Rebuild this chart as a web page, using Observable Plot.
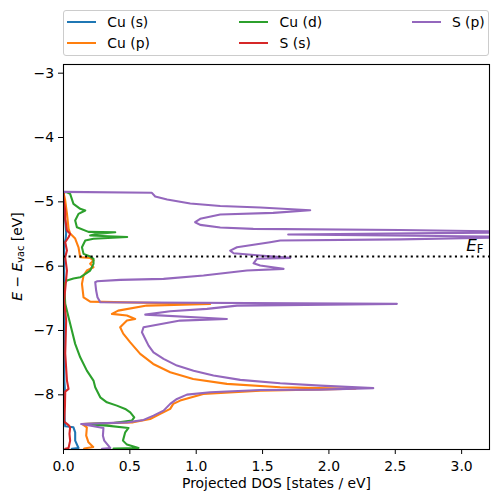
<!DOCTYPE html>
<html>
<head>
<meta charset="utf-8">
<script src="https://cdn.jsdelivr.net/npm/d3@7"></script>
<script src="https://cdn.jsdelivr.net/npm/@observablehq/plot@0.6"></script>
<style>
  body { margin: 0; background: white; font-family: "DejaVu Sans", sans-serif; }
  #wrap { position: relative; width: 498px; height: 502px; }
  #legendArea { position: relative; height: 60px; }
  #legend { position: absolute; left: 63px; top: 10px; width: 426px; height: 46px;
            border: 1px solid #cccccc; border-radius: 3px; box-sizing: border-box; background: white; }
  .lg-handle { position: absolute; height: 2px; width: 29px; }
  .lg-text { position: absolute; font-size: 13.9px; line-height: 16px; color: black; white-space: nowrap; }
  svg { display: block; }
</style>
</head>
<body>
<div id="wrap">
  <div id="legendArea"><div id="legend"></div></div>
  <div id="chart"></div>
</div>
<script>
// ---------- data (DOS in states/eV, energy in eV) ----------
const seriesNames = ["Cu (s)", "Cu (p)", "Cu (d)", "S (s)", "S (p)"];
const seriesColors = ["#1f77b4", "#ff7f0e", "#2ca02c", "#d62728", "#9467bd"];
const energyFermi = -5.851;
const xTicks = [0, 0.5, 1.0, 1.5, 2.0, 2.5, 3.0];
const yTicks = [-8, -7, -6, -5, -4, -3];

// [dos, energy]
const cuS = [
  [0,-4.851],[0.002,-5.21],[0.013,-5.29],[0.02,-5.48],[0.017,-5.57],[0.005,-5.68],[0.004,-5.91],
  [0.006,-6.3],[0.004,-7.0],[0.006,-7.78],[0.01,-7.9],[0.005,-8.2],[0.009,-8.40],[0.013,-8.49],
  [0.075,-8.505],[0.088,-8.583],[0.088,-8.712],[0.113,-8.826],[0.063,-8.837],[0.058,-8.95]
];
const cuP = [
  [0,-4.851],[0.005,-4.902],[0.013,-4.98],[0.026,-5.182],[0.038,-5.415],[0.05,-5.493],[0.088,-5.571],
  [0.113,-5.706],[0.126,-5.862],[0.201,-5.871],[0.226,-5.913],[0.201,-5.964],[0.226,-6.017],
  [0.176,-6.068],[0.151,-6.146],[0.139,-6.275],[0.151,-6.484],[0.201,-6.551],[1.105,-6.589],
  [0.628,-6.613],[0.412,-6.691],[0.365,-6.742],[0.478,-6.768],[0.54,-6.82],[0.478,-6.846],
  [0.427,-6.95],[0.45,-7.048],[0.503,-7.184],[0.578,-7.364],[0.676,-7.52],[0.804,-7.65],
  [0.977,-7.753],[1.231,-7.83],[1.633,-7.883],[2.2,-7.905],[1.482,-7.935],[1.053,-7.986],
  [0.879,-8.09],[0.827,-8.141],[0.804,-8.219],[0.729,-8.297],[0.653,-8.375],[0.525,-8.428],
  [0.139,-8.453],[0.176,-8.505],[0.171,-8.635],[0.188,-8.739],[0.224,-8.81],[0.156,-8.833],[0.141,-8.95]
];
const cuD = [
  [0,-4.851],[0.026,-4.851],[0.05,-4.876],[0.075,-5.031],[0.126,-5.109],[0.164,-5.135],[0.113,-5.187],
  [0.088,-5.291],[0.101,-5.395],[0.188,-5.467],[0.39,-5.473],[0.252,-5.498],[0.201,-5.524],
  [0.48,-5.547],[0.226,-5.575],[0.164,-5.602],[0.139,-5.706],[0.151,-5.809],[0.201,-5.851],
  [0.226,-5.886],[0.226,-5.964],[0.201,-6.068],[0.126,-6.173],[0.075,-6.193],[0.026,-6.224],
  [0.005,-6.275],[0.013,-6.586],[0.038,-6.795],[0.063,-7.002],[0.088,-7.208],[0.126,-7.417],
  [0.176,-7.624],[0.226,-7.779],[0.239,-7.883],[0.277,-8.039],[0.327,-8.117],[0.402,-8.168],
  [0.465,-8.219],[0.503,-8.272],[0.533,-8.35],[0.515,-8.401],[0.377,-8.437],[0.151,-8.453],
  [0.327,-8.479],[0.49,-8.515],[0.465,-8.583],[0.448,-8.712],[0.478,-8.774],[0.565,-8.826],
  [0.377,-8.837],[0.375,-8.95]
];
const sS = [
  [0,-4.851],[0,-4.953],[0.013,-5.135],[0.013,-5.264],[0.026,-5.446],[0.05,-5.498],[0.038,-5.551],
  [0.013,-5.628],[0.026,-5.757],[0.013,-5.862],[0.026,-6.068],[0.005,-6.535],[0.02,-6.846],
  [0.013,-7.359],[0.026,-7.779],[0.038,-7.908],[0.013,-7.95],[0.011,-8.168],[0.005,-8.417],
  [0.038,-8.471],[0.05,-8.505],[0.045,-8.608],[0.05,-8.712],[0.038,-8.826],[0.013,-8.837],[0.013,-8.95]
];
const sP = [
  [0,-4.845],[0.666,-4.86],[0.691,-4.918],[0.781,-4.964],[0.955,-5.026],[1.181,-5.065],[1.483,-5.089],
  [1.859,-5.131],[1.58,-5.171],[1.181,-5.198],[1.03,-5.264],[0.992,-5.317],[1.03,-5.358],
  [1.181,-5.4],[1.43,-5.42],[2.537,-5.439],[3.6,-5.47],[1.693,-5.509],[3.6,-5.545],[2.537,-5.583],
  [1.633,-5.602],[1.557,-5.628],[1.307,-5.706],[1.256,-5.758],[1.282,-5.799],[1.482,-5.835],
  [1.708,-5.871],[1.457,-5.886],[1.432,-5.955],[1.482,-5.991],[1.658,-6.042],[1.382,-6.068],
  [1.055,-6.146],[0.754,-6.198],[0.427,-6.213],[0.252,-6.235],[0.239,-6.25],[0.246,-6.379],
  [0.256,-6.484],[0.277,-6.561],[2.512,-6.586],[1.307,-6.613],[1.081,-6.664],[0.804,-6.701],
  [0.616,-6.753],[1.231,-6.82],[0.879,-6.846],[0.603,-6.95],[0.591,-7.028],[0.616,-7.131],
  [0.641,-7.235],[0.678,-7.339],[0.754,-7.442],[0.855,-7.546],[0.98,-7.624],[1.13,-7.701],
  [1.332,-7.768],[1.633,-7.821],[1.934,-7.857],[2.334,-7.896],[1.934,-7.919],[1.482,-7.924],
  [1.106,-7.961],[0.93,-7.997],[0.855,-8.064],[0.804,-8.141],[0.754,-8.246],[0.678,-8.324],
  [0.603,-8.39],[0.478,-8.428],[0.133,-8.453],[0.301,-8.515],[0.297,-8.635],[0.307,-8.712],
  [0.352,-8.826],[0.29,-8.837],[0.28,-8.95]
];
const seriesData = [cuS, cuP, cuD, sS, sP];

// ---------- legend (HTML, above the SVG) ----------
const legend = document.getElementById("legend");
seriesNames.forEach((name, i) => {
  const col = Math.floor(i / 2), row = i % 2;
  const cy = row === 0 ? 10.7 : 31.7;
  const left = 3 + col * 172.3;
  const h = document.createElement("div");
  h.className = "lg-handle";
  h.style.left = left + "px";
  h.style.top = (cy - 1) + "px";
  h.style.background = seriesColors[i];
  legend.appendChild(h);
  const t = document.createElement("div");
  t.className = "lg-text";
  t.style.left = (left + 40.3) + "px";
  t.style.top = (cy - 8) + "px";
  t.textContent = name;
  legend.appendChild(t);
});

// ---------- custom labels ----------
const NS = "http://www.w3.org/2000/svg";
function tspan(txt, attrs) {
  const s = document.createElementNS(NS, "tspan");
  s.textContent = txt;
  for (const k in attrs) s.setAttribute(k, attrs[k]);
  return s;
}
function yLabel(index, scales, values, dims) {
  const cy = dims.marginTop + (dims.height - dims.marginTop - dims.marginBottom) / 2;
  const t = document.createElementNS(NS, "text");
  t.setAttribute("transform", `translate(21.5,${cy}) rotate(-90)`);
  t.setAttribute("text-anchor", "middle");
  t.setAttribute("font-size", "13.9px");
  t.setAttribute("fill", "black");
  t.appendChild(tspan("E", {"font-style": "italic"}));
  t.appendChild(tspan(" − ", {}));
  t.appendChild(tspan("E", {"font-style": "italic"}));
  t.appendChild(tspan("vac", {"font-size": "9.7px", dy: "2.5"}));
  t.appendChild(tspan(" [eV]", {dy: "-2.5"}));
  return t;
}
function efLabel(index, scales, values, dims) {
  const t = document.createElementNS(NS, "text");
  t.setAttribute("x", dims.width - dims.marginRight - 5.5);
  t.setAttribute("y", scales.y(energyFermi) - 5);
  t.setAttribute("text-anchor", "end");
  t.setAttribute("font-size", "16.7px");
  t.setAttribute("fill", "black");
  t.appendChild(tspan("E", {"font-style": "italic"}));
  t.appendChild(tspan("F", {"font-size": "11.7px", dy: "1.5"}));
  return t;
}

// ---------- chart ----------
const lineMarks = seriesData.map((arr, i) =>
  Plot.line(arr, {x: d => d[0], y: d => d[1], stroke: seriesColors[i], strokeWidth: 2.08, clip: true})
);

const chart = Plot.plot({
  width: 498,
  height: 442,
  marginTop: 4,
  marginBottom: 53,
  marginLeft: 63,
  marginRight: 9,
  style: {fontFamily: "DejaVu Sans, sans-serif", fontSize: "13.9px", color: "black", background: "white"},
  x: {domain: [0, 3.21], ticks: xTicks, tickFormat: d3.format(".1f"), tickSize: 5, tickPadding: 6.5, label: null},
  y: {domain: [-8.85, -2.865], ticks: yTicks, tickFormat: d3.format("d"), tickSize: 5, tickPadding: 4.5, label: null},
  marks: [
    ...lineMarks,
    Plot.ruleY([energyFermi], {stroke: "black", strokeWidth: 2.08, strokeDasharray: "2.08,3.44"}),
    efLabel,
    Plot.frame({stroke: "black", strokeWidth: 1.1}),
    Plot.text(["Projected DOS [states / eV]"], {frameAnchor: "bottom", dy: 38, fontSize: 13.9, fill: "black"}),
    yLabel
  ]
});
document.getElementById("chart").appendChild(chart);
</script>
</body>
</html>
